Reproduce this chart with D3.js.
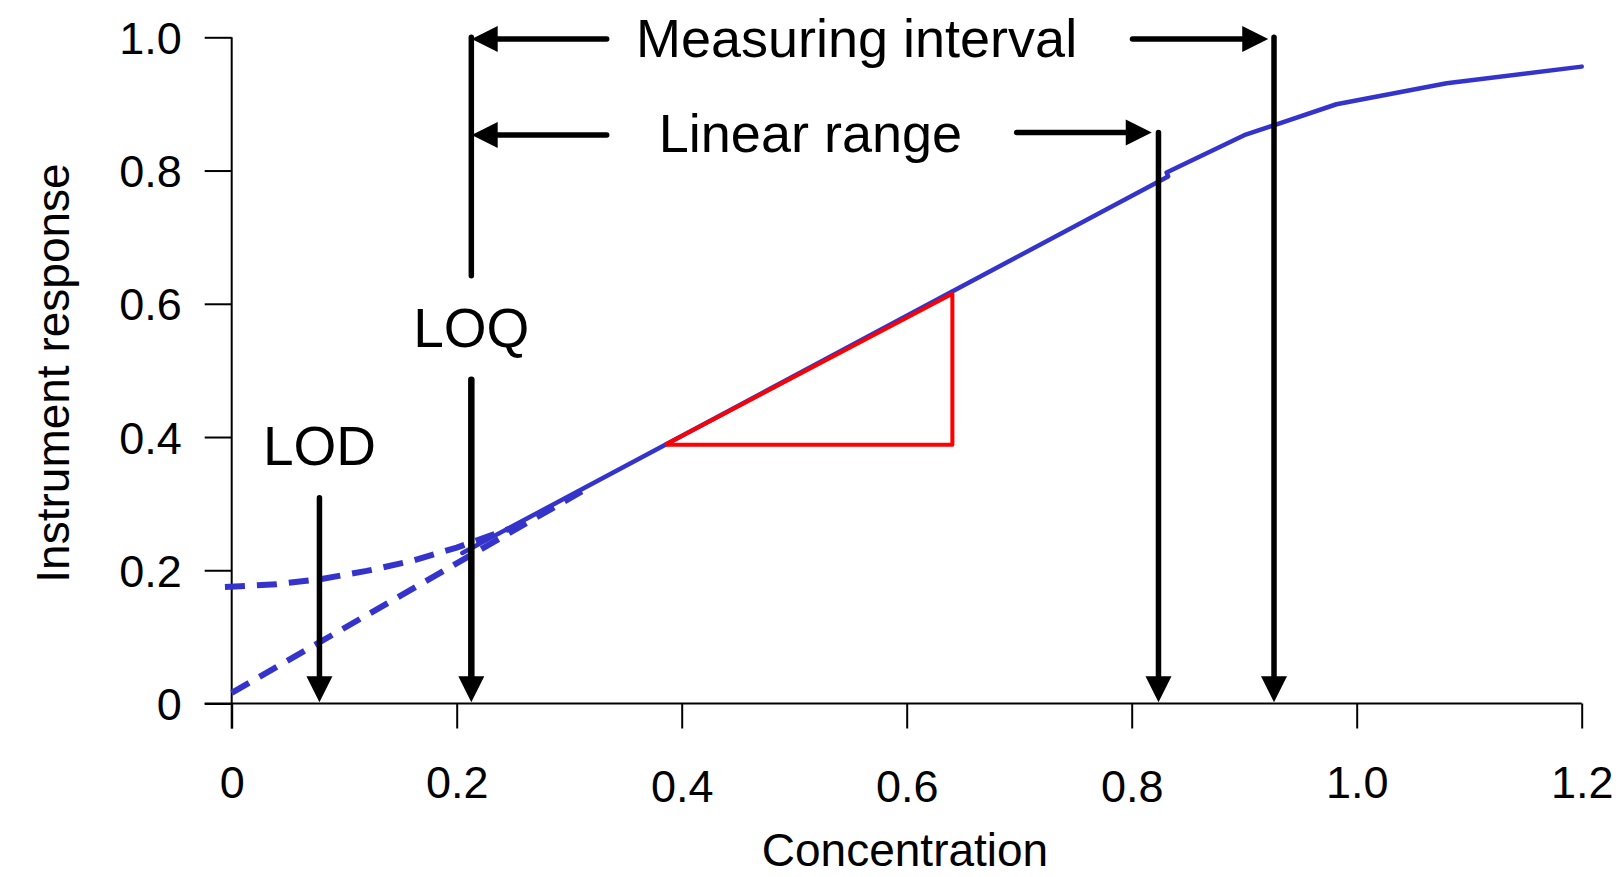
<!DOCTYPE html>
<html>
<head>
<meta charset="utf-8">
<script src="https://cdn.jsdelivr.net/npm/d3@7"></script>
<style>
body { margin: 0; background: #fff; }
svg text { font-family: "Liberation Sans", Arial, sans-serif; fill: #000; }
</style>
</head>
<body>
<svg id="canvas" width="1619" height="877"></svg>
<script>
var xTicks = [0, 0.2, 0.4, 0.6, 0.8, 1.0, 1.2];
var yTicks = [0, 0.2, 0.4, 0.6, 0.8, 1.0];

// calibration curve (solid)
var curveX = [0.205, 0.385, 0.64, 0.8324, 0.831, 0.9, 0.982, 1.08, 1.2];
var curveY = [0.226, 0.388, 0.618, 0.7912, 0.7972, 0.853, 0.8995, 0.931, 0.956];

// low end: real response (curved, dashed) and the extrapolated straight line (dashed)
var lowX = [-0.006, 0.04, 0.08, 0.12, 0.16, 0.2, 0.25];
var lowY = [0.175, 0.179, 0.187, 0.199, 0.214, 0.234, 0.264];
var extrapX = [0, 0.32];
var extrapY = [0.016, 0.327];

// slope triangle
var slopeX = [0.3852, 0.6406, 0.6406, 0.3852];
var slopeY = [0.3885, 0.3885, 0.615, 0.3885];

// arrows: start x, start y, tip x, tip y (data units)
var arrowX1 = [0.078, 0.213, 0.8238, 0.9265, 0.3333, 0.8007, 0.3333, 0.6978];
var arrowY1 = [0.309, 0.486, 0.857, 1.0, 0.9975, 0.9975, 0.8533, 0.857];
var arrowX2 = [0.078, 0.213, 0.8238, 0.9265, 0.2133, 0.9214, 0.2133, 0.8178];
var arrowY2 = [0.002, 0.002, 0.002, 0.002, 0.9975, 0.9975, 0.8533, 0.857];

var labels = ['LOD', 'LOQ', 'Measuring interval', 'Linear range'];
var labelX = [0.078, 0.213, 0.5554, 0.5144];
var labelY = [0.358, 0.535, 0.971, 0.828];

var svg = d3.select('#canvas');
var x = d3.scaleLinear().domain([0, 1.2]).range([231.7, 1581.7]);
var y = d3.scaleLinear().domain([0, 1]).range([703.5, 37.3]);

svg.append('rect').attr('width', 1619).attr('height', 877).attr('fill', '#fff');

// axes
var gx = svg.append('g')
	.attr('transform', 'translate(0,' + y(0) + ')')
	.call(d3.axisBottom(x).tickValues(xTicks).tickSize(25).tickPadding(38)
		.tickFormat(function(d){ return d == 0 ? '0' : d3.format('.1f')(d); }));
var gy = svg.append('g')
	.attr('transform', 'translate(' + x(0) + ',0)')
	.call(d3.axisLeft(y).tickValues(yTicks).tickSize(27).tickPadding(23)
		.tickFormat(function(d){ return d == 0 ? '0' : d3.format('.1f')(d); }));

[gx, gy].forEach(function(g){
	g.select('.domain').remove();
	g.selectAll('line').attr('stroke', '#000').attr('stroke-width', 2);
	g.selectAll('text').attr('fill', '#000').style('font-family', '"Liberation Sans", Arial, sans-serif');
});
gx.selectAll('text').attr('font-size', 45)
	.attr('y', function(d){ return (d > 0.3 && d < 0.9) ? 66.5 : 63; });
gy.selectAll('text').attr('font-size', 45).attr('dy', '0.36em');

svg.append('line')
	.attr('x1', x(0) - 27).attr('x2', x(1.2))
	.attr('y1', y(0)).attr('y2', y(0))
	.attr('stroke', '#000').attr('stroke-width', 2);
svg.append('line')
	.attr('x1', x(0)).attr('x2', x(0))
	.attr('y1', y(1)).attr('y2', y(0) + 25)
	.attr('stroke', '#000').attr('stroke-width', 2);

svg.append('text')
	.attr('x', 905).attr('y', 866)
	.attr('text-anchor', 'middle').attr('font-size', 46)
	.text('Concentration');
svg.append('text')
	.attr('transform', 'translate(69,373) rotate(-90)')
	.attr('text-anchor', 'middle').attr('font-size', 46)
	.text('Instrument response');

// curves
var line = d3.line()
	.x(function(d){ return x(d[0]); })
	.y(function(d){ return y(d[1]); });

function pairs(xs, ys){
	return xs.map(function(v, i){ return [v, ys[i]]; });
}

svg.append('path')
	.attr('d', line(pairs(extrapX, extrapY)))
	.attr('fill', 'none').attr('stroke', '#3434cc')
	.attr('stroke-width', 6).attr('stroke-dasharray', '20,12');
svg.append('path')
	.attr('d', line(pairs(lowX, lowY)))
	.attr('fill', 'none').attr('stroke', '#3434cc')
	.attr('stroke-width', 6).attr('stroke-dasharray', '20,12');
svg.append('path')
	.attr('d', line(pairs(curveX, curveY)))
	.attr('fill', 'none').attr('stroke', '#3434cc')
	.attr('stroke-width', 4.5).attr('stroke-linejoin', 'round').attr('stroke-linecap', 'round');

svg.append('path')
	.attr('d', line(pairs(slopeX, slopeY)))
	.attr('fill', 'none').attr('stroke', '#ff0000')
	.attr('stroke-width', 4).attr('stroke-linejoin', 'round');

// annotation arrows
function arrow(x1, y1, x2, y2, w){
	var ax = x(x1), ay = y(y1), bx = x(x2), by = y(y2);
	var len = Math.sqrt((bx - ax) * (bx - ax) + (by - ay) * (by - ay));
	var ux = (bx - ax) / len, uy = (by - ay) / len;
	var cx = bx - ux * 26, cy = by - uy * 26;
	svg.append('line')
		.attr('x1', ax).attr('y1', ay)
		.attr('x2', cx + ux * 2).attr('y2', cy + uy * 2)
		.attr('stroke', '#000').attr('stroke-width', w).attr('stroke-linecap', 'round');
	svg.append('path')
		.attr('d', 'M ' + bx + ' ' + by +
			' L ' + (cx - uy * 13) + ' ' + (cy + ux * 13) +
			' L ' + (cx + uy * 13) + ' ' + (cy - ux * 13) + ' Z')
		.attr('fill', '#000');
}

for (var i = 0; i < arrowX1.length; i++){
	arrow(arrowX1[i], arrowY1[i], arrowX2[i], arrowY2[i], i == 1 ? 6.5 : 5.5);
}

// upper part of the LOQ line
svg.append('line')
	.attr('x1', x(0.213)).attr('x2', x(0.213))
	.attr('y1', y(1.0)).attr('y2', y(0.642))
	.attr('stroke', '#000').attr('stroke-width', 5.5).attr('stroke-linecap', 'round');

svg.selectAll('.label')
	.data(labels)
	.enter().append('text')
	.attr('class', 'label')
	.attr('x', function(d, i){ return x(labelX[i]); })
	.attr('y', function(d, i){ return y(labelY[i]); })
	.attr('text-anchor', 'middle')
	.attr('font-size', function(d, i){ return i < 2 ? 55 : 54; })
	.text(function(d){ return d; });
</script>
</body>
</html>
